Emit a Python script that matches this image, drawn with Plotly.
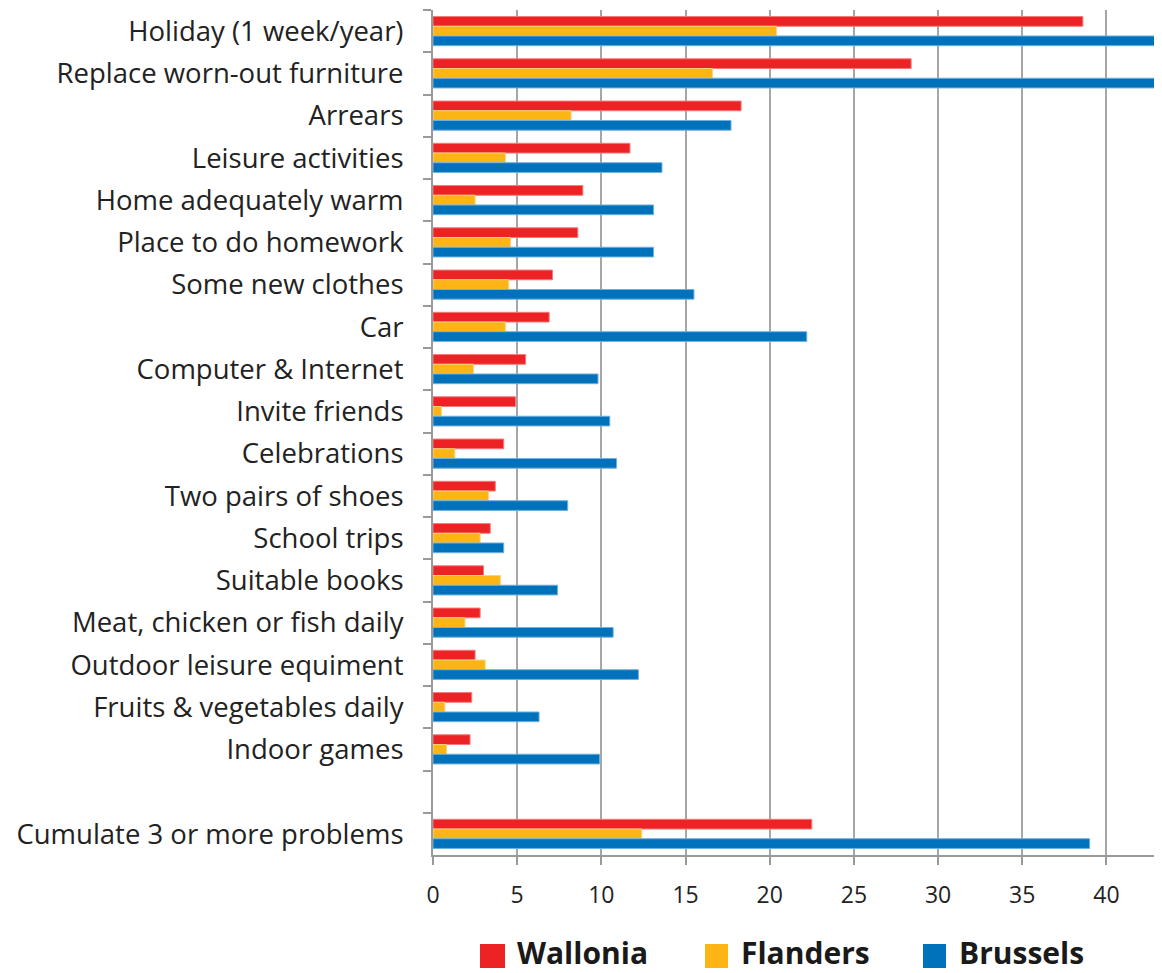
import plotly.graph_objects as go

# deprivation items, top to bottom (blank slot before the cumulative row)
items = [
    "Holiday (1 week/year)", "Replace worn-out furniture", "Arrears",
    "Leisure activities", "Home adequately warm", "Place to do homework",
    "Some new clothes", "Car", "Computer & Internet", "Invite friends",
    "Celebrations", "Two pairs of shoes", "School trips", "Suitable books",
    "Meat, chicken or fish daily", "Outdoor leisure equiment",
    "Fruits & vegetables daily", "Indoor games", " ",
    "Cumulate 3 or more problems",
]

wallonia = [38.6, 28.4, 18.3, 11.7, 8.9, 8.6, 7.1, 6.9, 5.5, 4.9,
            4.2, 3.7, 3.4, 3.0, 2.8, 2.5, 2.3, 2.2, None, 22.5]
flanders = [20.4, 16.6, 8.2, 4.3, 2.5, 4.6, 4.5, 4.3, 2.4, 0.5,
            1.3, 3.3, 2.8, 4.0, 1.9, 3.1, 0.7, 0.8, None, 12.4]
brussels = [43.1, 44.5, 17.7, 13.6, 13.1, 13.1, 15.5, 22.2, 9.8, 10.5,
            10.9, 8.0, 4.2, 7.4, 10.7, 12.2, 6.3, 9.9, None, 39.0]

series = [
    ("Wallonia", wallonia, "#ed2224", "#f47a78"),
    ("Flanders", flanders, "#fdb515", "#fdd27a"),
    ("Brussels", brussels, "#0072bc", "#6fb0dc"),
]

fig = go.Figure()
for name, vals, col, edge in series:
    fig.add_trace(go.Bar(
        y=items, x=vals, name=name, orientation="h",
        marker=dict(color=col, line=dict(color=edge, width=1)),
        showlegend=False,
    ))

# page body has an 8px margin, so work in figure pixels (page - 8)
W, H = 1154, 965
L, R, T, B = 425, 1154, 2, 847


def px_x(p):
    return (p - 8 - L) / (R - L)


def px_y(p):
    return (B - (p - 8)) / (B - T)


# custom legend (large swatches like the original)
legend_pos = [(480, 505, 516), (705, 728, 740), (923, 946, 958)]
for (name, _, col, _), (x0, x1, tx) in zip(series, legend_pos):
    fig.add_shape(type="rect", xref="paper", yref="paper",
                  x0=px_x(x0), x1=px_x(x1), y0=px_y(968), y1=px_y(944),
                  fillcolor=col, line=dict(width=0))
    fig.add_annotation(xref="paper", yref="paper", x=px_x(tx), y=px_y(952),
                       text=name, showarrow=False, xanchor="left",
                       yanchor="middle", borderpad=0,
                       font=dict(family="Open Sans", size=30, color="#1a1a1a",
                                 weight="bold"))

fig.update_layout(
    width=W, height=H,
    margin=dict(l=L, r=W - R, t=T, b=H - B),
    paper_bgcolor="white", plot_bgcolor="white",
    barmode="group", bargap=0.31, bargroupgap=0,
    font=dict(family="Open Sans", color="#222222"),
)
fig.update_yaxes(
    type="category", autorange="reversed",
    tickson="boundaries", ticks="outside", ticklen=8, tickwidth=2,
    tickcolor="#9a9a9a",
    showline=True, linecolor="#9a9a9a", linewidth=2,
    showgrid=False, ticklabelstandoff=22,
    tickfont=dict(size=27.5, color="#222222"),
)
fig.update_xaxes(
    range=[0, 43.3], tickvals=[0, 5, 10, 15, 20, 25, 30, 35, 40],
    ticks="outside", ticklen=8, tickwidth=2, tickcolor="#9a9a9a",
    showline=True, linecolor="#9a9a9a", linewidth=2,
    showgrid=True, gridcolor="#a6a6a6", gridwidth=2,
    zeroline=False, ticklabelstandoff=10,
    tickfont=dict(size=23, color="#222222"),
)

fig.write_html("out.html")
